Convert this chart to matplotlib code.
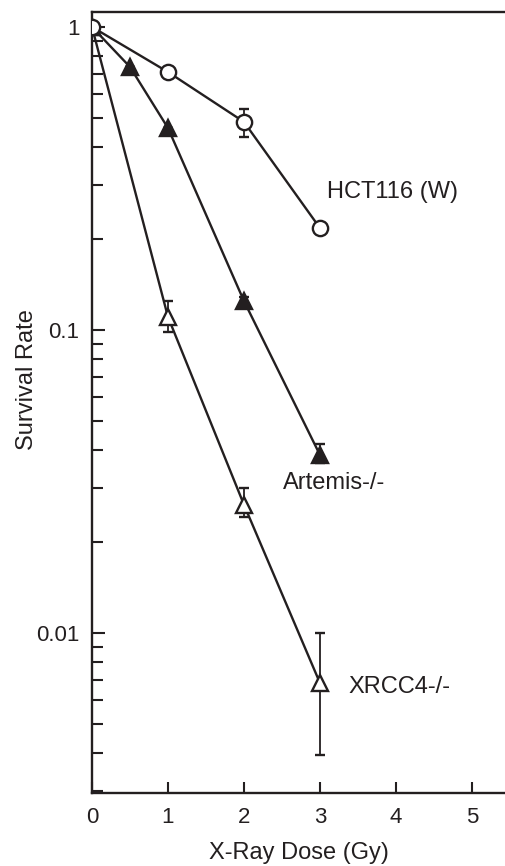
import numpy as np
import matplotlib
matplotlib.use("Agg")
import matplotlib.pyplot as plt

plt.rcParams['font.family'] = ['Liberation Sans', 'DejaVu Sans']

ink = '#231f20'

# survival data
dose_w = [0, 1, 2, 3]
surv_w = [1.0, 0.71, 0.486, 0.217]
err_w_lo = [0, 0, 0.052, 0]
err_w_hi = [0, 0, 0.050, 0]

dose_art = [0, 0.5, 1, 2, 3]
surv_art = [1.0, 0.738, 0.464, 0.1246, 0.0387]
err_art_lo = [0, 0, 0, 0.004, 0.0023]
err_art_hi = [0, 0, 0, 0.004, 0.0033]

dose_x4 = [0, 1, 2, 3]
surv_x4 = [1.0, 0.1104, 0.0265, 0.00684]
err_x4_lo = [0, 0.0119, 0.0024, 0.00288]
err_x4_hi = [0, 0.0143, 0.0036, 0.00316]

labels = ['HCT116 (W)', 'Artemis-/-', 'XRCC4-/-']
label_pos = [(3.09, 0.285), (2.51, 0.0313), (3.37, 0.00662)]

fig = plt.figure(figsize=(5.06, 8.66), dpi=100)
ax = fig.add_axes([0.1818, 0.0843, 0.8182, 0.9018])

kw = dict(color=ink, lw=1.7, elinewidth=1.3, capsize=3.5, capthick=1.3, zorder=3)
ax.errorbar(dose_x4, surv_x4, yerr=[err_x4_lo, err_x4_hi], marker='^', ms=11,
            mfc='white', mec=ink, mew=1.7, **kw)
ax.errorbar(dose_art, surv_art, yerr=[err_art_lo, err_art_hi], marker='^', ms=11,
            mfc=ink, mec=ink, mew=1.7, **kw)
ax.errorbar(dose_w, surv_w, yerr=[err_w_lo, err_w_hi], marker='o', ms=11,
            mfc='white', mec=ink, mew=1.7, **kw)

for lab, (tx, ty) in zip(labels, label_pos):
    ax.text(tx, ty, lab, fontsize=17, color=ink, va='center', ha='left')

ax.set_yscale('log')
ax.set_xlim(0, 5.45)
ax.set_ylim(0.00296, 1.12)
ax.set_xticks([0, 1, 2, 3, 4, 5])
ax.set_yticks([0.01, 0.1, 1])
ax.set_yticklabels(['0.01', '0.1', '1'])
ax.yaxis.set_minor_locator(matplotlib.ticker.LogLocator(base=10, subs=np.arange(2, 10)))
ax.yaxis.set_minor_formatter(matplotlib.ticker.NullFormatter())

ax.spines['right'].set_visible(False)
for s in ['left', 'bottom', 'top']:
    ax.spines[s].set_linewidth(1.7)
    ax.spines[s].set_color(ink)

ax.tick_params(axis='both', which='major', direction='in', length=9, width=1.5,
               colors=ink, labelsize=16, pad=9)
ax.tick_params(axis='y', which='minor', direction='in', length=8, width=1.5, colors=ink)
ax.tick_params(axis='x', which='major', length=8, pad=10)

ax.set_xlabel('X-Ray Dose (Gy)', fontsize=17, color=ink, labelpad=10)
ax.set_ylabel('Survival Rate', fontsize=17, color=ink)
ax.yaxis.set_label_coords(-0.13, 0.53)

fig.savefig('out.png', dpi=100)
